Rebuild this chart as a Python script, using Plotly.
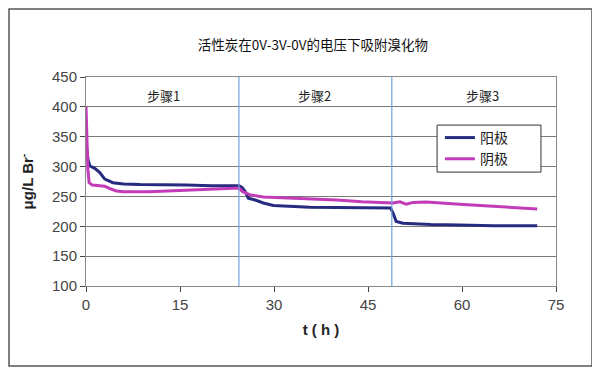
import plotly.graph_objects as go

title = "活性炭在0V-3V-0V的电压下吸附溴化物"
series_names = ["阳极", "阴极"]
step_labels = ["步骤1", "步骤2", "步骤3"]
step_label_x = [12.3, 36.5, 63.2]
step_bounds = [24.4, 48.8]

t_anode = [0, 0.15, 0.35, 0.64, 1.4, 2.2, 3.0, 4.3, 6, 8.6, 12, 16, 20, 24.4, 24.9, 25.4, 25.9, 27.0, 28.3, 29.9, 35.7, 40, 44, 48.6, 49.0, 49.5, 50.6, 52.2, 55, 59.6, 65, 72]
y_anode = [340, 322, 310, 301, 297, 290, 279, 273, 271, 270, 269, 269, 268, 268, 265, 258, 247, 244, 239, 235, 232, 231.5, 231, 230.5, 222, 208, 205, 204, 203, 202, 201, 201]

t_cathode = [0, 0.15, 0.3, 0.5, 1.0, 2.2, 3.0, 4.1, 4.9, 6, 10, 14, 18, 22, 24.4, 25.0, 26.1, 28.3, 35.7, 40, 44, 48.6, 49.0, 50.1, 51.1, 52.2, 54.3, 59.6, 65, 72]
y_cathode = [400, 340, 295, 273, 269, 268, 267, 262, 259, 258, 258, 259.5, 261, 263, 264, 258, 253, 249, 246, 244, 241, 238.5, 239, 241, 237, 240, 240.5, 237, 233, 229]

fig = go.Figure()
fig.add_trace(go.Scatter(x=t_anode, y=y_anode, mode="lines", name=series_names[0],
                         line=dict(color="#262B80", width=3)))
fig.add_trace(go.Scatter(x=t_cathode, y=y_cathode, mode="lines", name=series_names[1],
                         line=dict(color="#C23CB8", width=3)))

for b in step_bounds:
    fig.add_shape(type="line", xref="x", yref="y", x0=b, x1=b, y0=100, y1=450,
                  line=dict(color="#6FA3DC", width=1.2))

for lab, lx in zip(step_labels, step_label_x):
    fig.add_annotation(x=lx, y=419, xref="x", yref="y", text=lab, showarrow=False,
                       font=dict(family="Noto Sans CJK SC", size=13, color="#222"))

# outer border
fig.add_shape(type="rect", xref="paper", yref="paper", x0=-0.1638, x1=1.0766, y0=-0.383, y1=1.325,
              line=dict(color="#555", width=1.5), fillcolor="rgba(0,0,0,0)", layer="below")

# legend frame
fig.add_shape(type="rect", xref="paper", yref="paper", x0=0.747, x1=0.968, y0=0.545, y1=0.770,
              line=dict(color="#333", width=1), fillcolor="white", layer="above")

fig.update_layout(
    width=592, height=363,
    margin=dict(l=78, r=44, t=69, b=85),
    paper_bgcolor="white", plot_bgcolor="white",
    title=dict(text=title, x=0.515, xanchor="center", y=0.898, yanchor="middle",
               font=dict(family="Noto Sans CJK SC", size=13.5, color="#111")),
    font=dict(family="Liberation Sans, Arial", color="#333"),
    showlegend=True,
    legend=dict(x=0.753, y=0.658, xanchor="left", yanchor="middle",
                bgcolor="rgba(0,0,0,0)", borderwidth=0,
                font=dict(family="Noto Sans CJK SC", size=14, color="#222")),
    xaxis=dict(range=[0, 75], tickvals=[0, 15, 30, 45, 60, 75], showgrid=False,
               ticks="outside", ticklen=5, tickcolor="#444", showline=True, linecolor="#888",
               mirror=True, zeroline=False,
               tickfont=dict(size=15, color="#444"),
               title=dict(text="<b>t ( h )</b>", font=dict(size=15, color="#222"), standoff=12)),
    yaxis=dict(range=[100, 450], tickvals=[100, 150, 200, 250, 300, 350, 400, 450],
               showgrid=True, gridcolor="#7A7A7A", gridwidth=1,
               ticks="outside", ticklen=5, tickcolor="#444", showline=True, linecolor="#888",
               mirror=True, zeroline=False,
               tickfont=dict(size=15, color="#444"),
               title=dict(text="<b>μg/L Br<sup>-</sup></b>", font=dict(size=15, color="#222"), standoff=14)),
)

fig.write_html("out.html")
